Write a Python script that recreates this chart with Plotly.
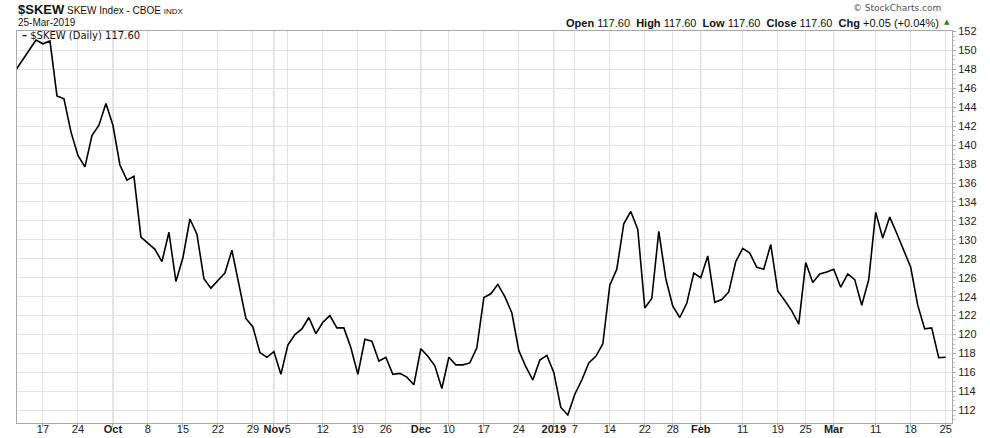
import plotly.graph_objects as go

# ---- data: trading days per month and SKEW closes ----
sep_days = [11, 12, 13, 14, 17, 18, 19, 20, 21, 24, 25, 26, 27, 28]
sep_vals = [147.8, 148.9, 150.1, 151.1, 150.7, 151.0, 145.2, 144.9, 141.4, 138.9, 137.7, 141.0, 142.1, 144.4]

oct_days = [1, 2, 3, 4, 5, 8, 9, 10, 11, 12, 15, 16, 17, 18, 19, 22, 23, 24, 25, 26, 29, 30, 31]
oct_vals = [142.1, 137.9, 136.3, 136.7, 130.3, 129.7, 129.0, 127.7, 130.8, 125.6, 128.1, 132.2, 130.6,
            125.9, 124.9, 125.7, 126.5, 128.9, 125.3, 121.7, 120.8, 118.1, 117.6]

nov_days = [1, 2, 5, 6, 7, 8, 9, 12, 13, 14, 15, 16, 19, 20, 21, 23, 26, 27, 28, 29, 30]
nov_vals = [118.2, 115.8, 118.9, 120.0, 120.6, 121.8, 120.1, 121.3, 122.0, 120.7, 120.7, 118.6, 115.8,
            119.5, 119.3, 117.2, 117.6, 115.8, 115.9, 115.5, 114.7]

dec_days = [3, 4, 6, 7, 10, 11, 12, 13, 14, 17, 18, 19, 20, 21, 24, 26, 27, 28, 31]
dec_vals = [118.5, 117.7, 116.7, 114.3, 117.6, 116.8, 116.8, 117.0, 118.6, 123.9, 124.3, 125.3, 124.0,
            122.3, 118.3, 116.6, 115.2, 117.3, 117.8]

jan_days = [2, 3, 4, 7, 8, 9, 10, 11, 14, 15, 16, 17, 18, 22, 23, 24, 25, 28, 29, 30, 31]
jan_vals = [116.0, 112.3, 111.5, 113.7, 115.2, 117.0, 117.7, 119.0, 125.2, 126.9, 131.7, 133.0, 131.1,
            122.8, 123.8, 130.9, 125.9, 123.0, 121.8, 123.3, 126.5]

feb_days = [1, 4, 5, 6, 7, 8, 11, 12, 13, 14, 15, 19, 20, 21, 22, 25, 26, 27, 28]
feb_vals = [126.0, 128.3, 123.4, 123.7, 124.5, 127.7, 129.1, 128.6, 127.1, 126.9, 129.5, 124.6, 123.6,
            122.5, 121.1, 127.6, 125.5, 126.4, 126.6]

mar_days = [1, 4, 5, 6, 7, 8, 11, 12, 13, 14, 15, 18, 19, 20, 21, 22, 25]
mar_vals = [126.9, 125.0, 126.4, 125.8, 123.1, 125.8, 132.9, 130.2, 132.4, 130.7, 128.8, 127.1, 123.1,
            120.6, 120.7, 117.55, 117.60]

tick_dates = ["2018-09-17", "2018-09-24", "2018-10-01", "2018-10-08", "2018-10-15", "2018-10-22",
              "2018-10-29", "2018-11-01", "2018-11-05", "2018-11-12", "2018-11-19", "2018-11-26",
              "2018-12-03", "2018-12-10", "2018-12-17", "2018-12-24", "2019-01-02", "2019-01-07",
              "2019-01-14", "2019-01-22", "2019-01-28", "2019-02-01", "2019-02-11", "2019-02-19",
              "2019-02-25", "2019-03-01", "2019-03-11", "2019-03-18", "2019-03-25"]
tick_text = ["17", "24", "<b>Oct</b>", "8", "15", "22", "29", "<b>Nov</b>", "5", "12", "19", "26",
             "<b>Dec</b>", "10", "17", "24", "<b>2019</b>", "7", "14", "22", "28", "<b>Feb</b>",
             "11", "19", "25", "<b>Mar</b>", "11", "18", "25"]
month_starts = ["2018-10-01", "2018-11-01", "2018-12-03", "2019-01-02", "2019-02-01", "2019-03-01"]

# ---- assemble ----
groups = [(2018, 9, sep_days, sep_vals), (2018, 10, oct_days, oct_vals), (2018, 11, nov_days, nov_vals),
          (2018, 12, dec_days, dec_vals), (2019, 1, jan_days, jan_vals), (2019, 2, feb_days, feb_vals),
          (2019, 3, mar_days, mar_vals)]
dates, values = [], []
for yr, mo, days, vals in groups:
    for d, v in zip(days, vals):
        dates.append(f"{yr}-{mo:02d}-{d:02d}")
        values.append(v)

W, H = 990, 438
ML, MR, MT, MB = 17, 38, 31, 15
PW, PH = W - ML - MR, H - MT - MB


def px(x):
    return (x - ML) / PW


def py(y):
    return (H - MB - y) / PH


FONT = "Liberation Sans, Arial, sans-serif"
GRID = "#e2e2e2"
FRAME = "#a8a8a8"

fig = go.Figure()
fig.add_trace(go.Scatter(x=dates, y=values, mode="lines",
                         line=dict(color="black", width=1.6),
                         name="$SKEW (Daily)", showlegend=False, hoverinfo="skip"))

shapes = [dict(type="line", xref="x", yref="paper", x0=d, x1=d, y0=0, y1=1,
               line=dict(color="#c4c4c4", width=1), layer="between") for d in month_starts]

annotations = [
    dict(x=px(16), y=py(9), xanchor="left", yanchor="middle",
         text="<b style='font-size:13px'>$SKEW</b> SKEW Index - CBOE <span style='font-size:8px'>INDX</span>",
         font=dict(family=FONT, size=10, color="#111")),
    dict(x=px(16), y=py(23), xanchor="left", yanchor="middle", text="25-Mar-2019",
         font=dict(family=FONT, size=10, color="#111")),
    dict(x=px(943), y=py(8.5), xanchor="right", yanchor="middle", text="© StockCharts.com",
         font=dict(family="DejaVu Sans, sans-serif", size=9, color="#555")),
    dict(x=px(941), y=py(22.5), xanchor="right", yanchor="middle",
         text="<b>Open</b> 117.60  <b>High</b> 117.60  <b>Low</b> 117.60  <b>Close</b> 117.60  "
              "<b>Chg</b> +0.05 (+0.04%)",
         font=dict(family=FONT, size=11, color="#111")),
    dict(x=px(947), y=py(22), xanchor="center", yanchor="middle", text="▲",
         font=dict(family="DejaVu Sans, sans-serif", size=7, color="#2e7d32")),
    dict(x=px(20), y=py(35), xanchor="left", yanchor="middle",
         text="<b>–</b> $SKEW (Daily) 117.60",
         font=dict(family="DejaVu Sans, sans-serif", size=10, color="#111")),
]
for a in annotations:
    a.update(xref="paper", yref="paper", showarrow=False)

fig.update_layout(
    width=W, height=H,
    margin=dict(l=ML, r=MR, t=MT, b=MB, pad=0, autoexpand=False),
    paper_bgcolor="white", plot_bgcolor="white",
    showlegend=False,
    shapes=shapes,
    annotations=annotations,
    xaxis=dict(type="category", categoryorder="array", categoryarray=dates,
               range=[0.29, 133.9], tickvals=tick_dates, ticktext=tick_text,
               showgrid=True, gridcolor=GRID, gridwidth=1,
               showline=True, linecolor=FRAME, linewidth=1, mirror=True,
               ticks="outside", ticklen=3, tickcolor=FRAME, ticklabelstandoff=-7,
               tickfont=dict(family=FONT, size=11, color="#222"), tickangle=0,
               zeroline=False, fixedrange=True, automargin=False),
    yaxis=dict(side="right", range=[110.66, 152.05], dtick=2, tick0=0,
               showgrid=True, gridcolor=GRID, gridwidth=1,
               showline=True, linecolor=FRAME, linewidth=1, mirror=True,
               ticks="outside", ticklen=3, tickcolor=FRAME,
               minor=dict(dtick=0.5, ticks="outside", ticklen=2, tickcolor="#c0c0c0", showgrid=False),
               tickfont=dict(family=FONT, size=11, color="#222"),
               zeroline=False, fixedrange=True, automargin=False),
)

# remove the browser's default 8px page margin so the figure fills the window exactly
fig.write_html("out.html", config={"displayModeBar": False, "responsive": False},
               post_script="document.body.style.margin='0';document.body.style.overflow='hidden';")
